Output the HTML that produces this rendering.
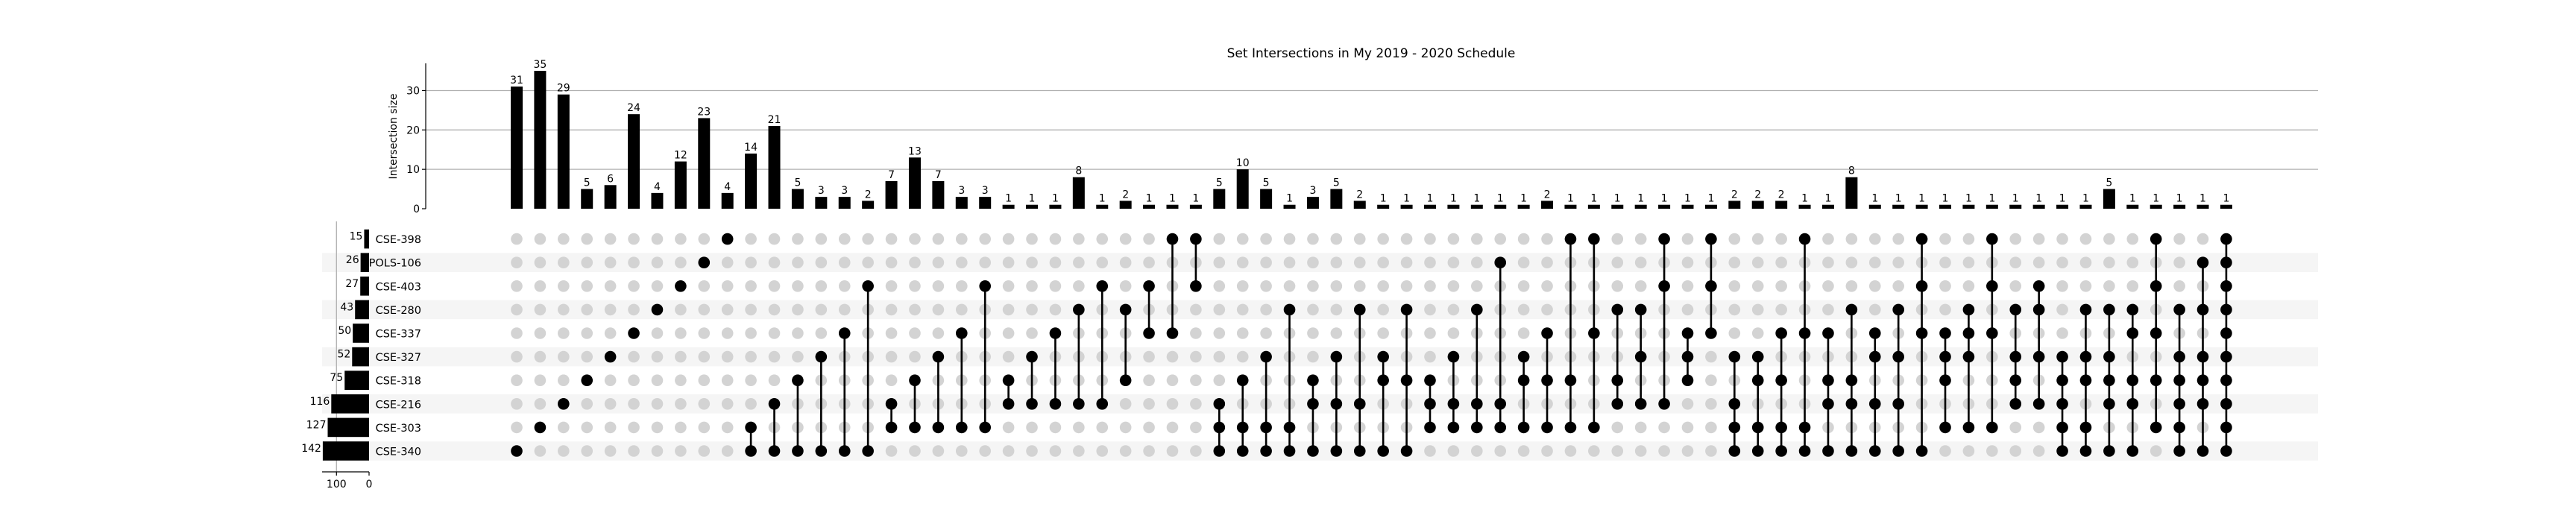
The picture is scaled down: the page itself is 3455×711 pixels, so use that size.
<!DOCTYPE html>
<html><head><meta charset="utf-8"><style>
html,body{margin:0;padding:0;background:#fff;}
svg{display:block;font-family:"DejaVu Sans","Liberation Sans",sans-serif;}
</style></head><body>
<svg id="chart" width="3455" height="711" viewBox="0 0 3455 711" xmlns="http://www.w3.org/2000/svg">
<text x="1839" y="77" font-size="17" text-anchor="middle">Set Intersections in My 2019 - 2020 Schedule</text>
<g id="g"></g>
</svg>
<script>
const setNames = ["CSE-398","POLS-106","CSE-403","CSE-280","CSE-337","CSE-327","CSE-318","CSE-216","CSE-303","CSE-340"];
const setSizes = [15,26,27,43,50,52,75,116,127,142];
const intersectionSizes = [31,35,29,5,6,24,4,12,23,4,14,21,5,3,3,2,7,13,7,3,3,1,1,1,8,1,2,1,1,1,5,10,5,1,3,5,2,1,1,1,1,1,1,1,2,1,1,1,1,1,1,1,2,2,2,1,1,8,1,1,1,1,1,1,1,1,1,1,5,1,1,1,1,1];
const memberships = [
["CSE-340"],["CSE-303"],["CSE-216"],["CSE-318"],["CSE-327"],["CSE-337"],["CSE-280"],["CSE-403"],["POLS-106"],["CSE-398"],
["CSE-303","CSE-340"],["CSE-216","CSE-340"],["CSE-318","CSE-340"],["CSE-327","CSE-340"],["CSE-337","CSE-340"],["CSE-403","CSE-340"],
["CSE-216","CSE-303"],["CSE-318","CSE-303"],["CSE-327","CSE-303"],["CSE-337","CSE-303"],["CSE-403","CSE-303"],
["CSE-318","CSE-216"],["CSE-327","CSE-216"],["CSE-337","CSE-216"],["CSE-280","CSE-216"],["CSE-403","CSE-216"],
["CSE-280","CSE-318"],["CSE-403","CSE-337"],["CSE-398","CSE-337"],["CSE-398","CSE-403"],
["CSE-216","CSE-303","CSE-340"],["CSE-318","CSE-303","CSE-340"],["CSE-327","CSE-303","CSE-340"],["CSE-280","CSE-303","CSE-340"],
["CSE-318","CSE-216","CSE-340"],["CSE-327","CSE-216","CSE-340"],["CSE-280","CSE-216","CSE-340"],["CSE-327","CSE-318","CSE-340"],["CSE-280","CSE-318","CSE-340"],
["CSE-318","CSE-216","CSE-303"],["CSE-327","CSE-216","CSE-303"],["CSE-280","CSE-216","CSE-303"],["POLS-106","CSE-216","CSE-303"],
["CSE-327","CSE-318","CSE-303"],["CSE-337","CSE-318","CSE-303"],["CSE-398","CSE-318","CSE-303"],["CSE-398","CSE-337","CSE-303"],
["CSE-280","CSE-318","CSE-216"],["CSE-280","CSE-327","CSE-216"],["CSE-398","CSE-403","CSE-216"],["CSE-337","CSE-327","CSE-318"],["CSE-398","CSE-403","CSE-337"],
["CSE-327","CSE-216","CSE-303","CSE-340"],["CSE-327","CSE-318","CSE-303","CSE-340"],["CSE-337","CSE-318","CSE-303","CSE-340"],["CSE-398","CSE-337","CSE-303","CSE-340"],
["CSE-337","CSE-318","CSE-216","CSE-340"],["CSE-280","CSE-318","CSE-216","CSE-340"],["CSE-337","CSE-327","CSE-216","CSE-340"],["CSE-280","CSE-327","CSE-216","CSE-340"],
["CSE-398","CSE-403","CSE-337","CSE-340"],["CSE-337","CSE-327","CSE-318","CSE-303"],["CSE-280","CSE-337","CSE-327","CSE-303"],["CSE-398","CSE-403","CSE-337","CSE-303"],
["CSE-280","CSE-327","CSE-318","CSE-216"],["CSE-403","CSE-280","CSE-327","CSE-216"],
["CSE-327","CSE-318","CSE-216","CSE-303","CSE-340"],["CSE-280","CSE-327","CSE-318","CSE-303","CSE-340"],["CSE-280","CSE-327","CSE-318","CSE-216","CSE-340"],
["CSE-280","CSE-337","CSE-318","CSE-216","CSE-340"],["CSE-398","CSE-403","CSE-337","CSE-318","CSE-303"],
["CSE-280","CSE-327","CSE-318","CSE-216","CSE-303","CSE-340"],["POLS-106","CSE-280","CSE-327","CSE-318","CSE-216","CSE-340"],
["CSE-398","POLS-106","CSE-403","CSE-280","CSE-337","CSE-327","CSE-318","CSE-216","CSE-303","CSE-340"]
];
const yTicks = [0,10,20,30];
const sizeTicks = [100,0];

const NS="http://www.w3.org/2000/svg";
const g=document.getElementById('g');
function el(tag,attrs,parent){const e=document.createElementNS(NS,tag);for(const k in attrs)e.setAttribute(k,attrs[k]);(parent||g).appendChild(e);return e;}
const colX=i=>693+i*31.41;
const rowY=r=>320.6+r*31.6;
const yMax=36.9, yBase=280, yTop=85;
const yScale=v=>yBase-(v/yMax)*(yBase-yTop);
const sizeScale=v=>495-v*0.437;
const leftEdge=432, rightEdge=3109;

// stripes
setNames.forEach((n,r)=>{ if(r%2===1){
  const s=el('rect',{x:leftEdge,y:rowY(r)-12.8,width:rightEdge-leftEdge,height:25.6,fill:'#f5f5f5'});
  
  
}});
// bar chart grid + axis
yTicks.forEach(t=>{
  const y=yScale(t);
  if(t>0){const l=el('line',{x1:571,x2:rightEdge,y1:y,y2:y,stroke:'#b0b0b0','stroke-width':1.3});
    
    }
  const tk=el('line',{x1:566,x2:571,y1:y,y2:y,stroke:'#000','stroke-width':1.2});
  
  
  const tx=el('text',{x:563,y:y+5,'font-size':14,'text-anchor':'end'});
  tx.textContent=t;
  
  
});
const ax=el('line',{x1:571,x2:571,y1:yTop,y2:yBase,stroke:'#000','stroke-width':1.2});


const yl=el('text',{x:0,y:0,'font-size':14,'text-anchor':'middle',transform:'translate(532,183) rotate(-90)'});
yl.textContent='Intersection size';



// bars
intersectionSizes.forEach((v,i)=>{
  const x=colX(i), y=yScale(v);
  const b=el('rect',{x:x-8,y:y,width:16,height:yBase-y,fill:'#000'});
  
  
  const t=el('text',{x:x,y:y-4,'font-size':14,'text-anchor':'middle'});
  t.textContent=v;
  
  
});

// set size axis
const gl=el('line',{x1:sizeScale(100),x2:sizeScale(100),y1:297,y2:633,stroke:'#b0b0b0','stroke-width':1.3});


setNames.forEach((n,r)=>{
  const y=rowY(r), w=setSizes[r]*0.437;
  const b=el('rect',{x:495-w,y:y-12.8,width:w,height:25.6,fill:'#000'});
  
  
  const t=el('text',{x:495-w-2,y:y+1,'font-size':14,'text-anchor':'end'});
  t.textContent=setSizes[r];
  
  
  const l=el('text',{x:565,y:y+5.5,'font-size':14.5,'text-anchor':'end'});
  l.textContent=n;
  
  
});
const sp=el('line',{x1:432,x2:495,y1:633,y2:633,stroke:'#000','stroke-width':1.2});


sizeTicks.forEach(t=>{
  const x=sizeScale(t);
  const k=el('line',{x1:x,x2:x,y1:633,y2:638,stroke:'#000','stroke-width':1.2});
  
  
  const tx=el('text',{x:x,y:654,'font-size':14,'text-anchor':'middle'});
  tx.textContent=t;
  
  
});

// matrix
memberships.forEach((m,i)=>{
  const x=colX(i);
  const rows=m.map(n=>setNames.indexOf(n));
  setNames.forEach((n,r)=>{
    if(rows.indexOf(r)<0){
      const c=el('circle',{cx:x,cy:rowY(r),r:7.8,fill:'#d3d3d3'});
      
      
    }
  });
  if(rows.length>1){
    const a=Math.min(...rows), b=Math.max(...rows);
    const l=el('line',{x1:x,x2:x,y1:rowY(a),y2:rowY(b),stroke:'#000','stroke-width':2.6});
    
    
  }
  rows.forEach(r=>{
    const c=el('circle',{cx:x,cy:rowY(r),r:7.8,fill:'#000'});
    
    
  });
});
</script>
</body></html>
